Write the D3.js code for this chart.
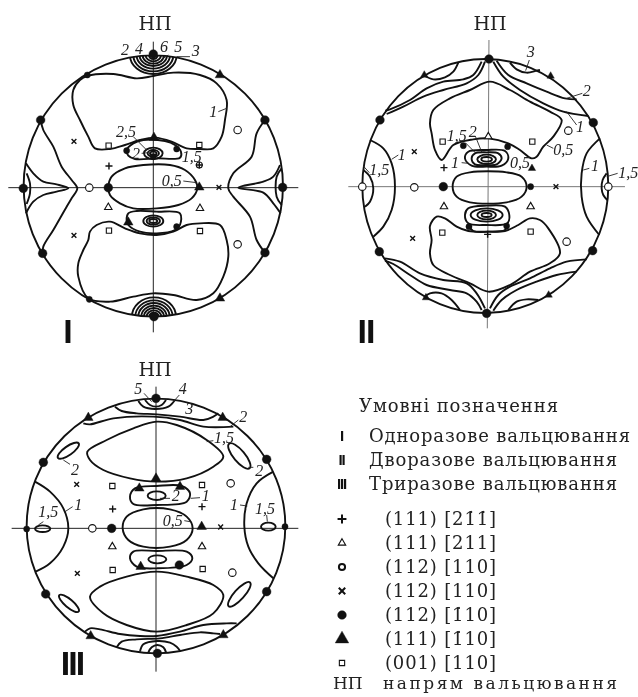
<!DOCTYPE html>
<html>
<head>
<meta charset="utf-8">
<style>
  html, body { margin: 0; padding: 0; background: #fff; }
  svg { display: block; filter: blur(0.4px); }
  .contour { fill: none; stroke: #111; stroke-width: 1.9; stroke-linejoin: round; }
  .leader { stroke: #222; stroke-width: 0.9; }
  .num { font-family: "Liberation Serif", serif; font-style: italic; font-size: 16px; fill: #222; text-anchor: middle; dominant-baseline: central; }
  .title { font-family: "DejaVu Serif", serif; font-size: 19px; fill: #222; text-anchor: middle; }
  .legend { font-family: "DejaVu Serif", serif; font-size: 18px; fill: #222; }
  .roman { font-family: "Liberation Sans", sans-serif; font-weight: bold; font-size: 34px; fill: #111; text-anchor: middle; }
</style>
</head>
<body>
<svg id="chart" width="638" height="697"></svg>
<script src="https://d3js.org/d3.v7.min.js"></script>
<script>
// all pole figure values are offsets from the figure centre, 3 units = 1 px, y goes up

// ---- figure I (single rolling)
const closedI = [
  [[-198,330],[-120,336],[-50,323],[0,330],[60,340],[140,333],[190,308],[220,258],[215,198],[205,148],[180,113],[140,111],[100,113],[55,133],[5,145],[-40,138],[-85,123],[-130,111],[-175,113],[-195,148],[-220,198],[-240,243],[-240,288],[-220,318]],
  [[-80,108],[-75,91],[-55,81],[10,83],[80,85],[83,103],[65,123],[35,135],[-30,138],[-60,128]],
  [[-135,-5],[-125,28],[-85,53],[-30,63],[50,63],[95,48],[125,18],[132,-7],[115,-37],[75,-57],[10,-67],[-60,-67],[-100,-52],[-130,-27]],
  [[-75,-82],[-50,-75],[10,-77],[80,-82],[80,-117],[65,-132],[10,-142],[-40,-137],[-75,-117],[-80,-102]],
  [[-130,-107],[-85,-127],[-40,-142],[10,-147],[60,-137],[100,-117],[140,-112],[200,-117],[220,-162],[225,-212],[210,-272],[180,-322],[130,-342],[60,-327],[0,-322],[-60,-332],[-130,-347],[-195,-337],[-225,-272],[-225,-232],[-210,-192],[-195,-162],[-190,-137],[-170,-117]]
];
const openI = [
  [[-338,198],[-330,168],[-300,118],[-275,58],[-245,18],[-228,-7],[-245,-37],[-260,-62],[-300,-132],[-330,-182],[-332,-202]],
  [[-382,68],[-360,38],[-330,13],[-290,5],[-255,-7],[-290,-17],[-330,-27],[-360,-47],[-382,-82]],
  [[-380,38],[-370,8],[-370,-22],[-380,-54]],
  [[335,198],[310,158],[295,88],[240,38],[225,-7],[240,-32],[290,-92],[310,-162],[335,-200]],
  [[380,63],[360,28],[330,13],[255,-5],[330,-20],[360,-52],[382,-82]],
  [[385,53],[370,28],[370,-32],[385,-57]]
];
// [dx, dy, rx, ry, rotation]
const ovalsI = [
  [0,98,28,17,0],[0,98,17,10,0],[0,98,10,5,0],
  [0,-105,30,17,0],[0,-105,20,11,0],[0,-105,12,6,0],
  // pole lobes, clipped by the circle
  [0,392,70,56,0],[0,392,60,48,0],[0,392,50,40,0],[0,392,41,32,0],[0,392,32,25,0],[0,392,23,18,0],[0,392,13,11,0],
  [2,-392,66,58,0],[2,-392,56,49,0],[2,-392,47,41,0],[2,-392,38,33,0],[2,-392,30,26,0],[2,-392,22,19,0],[2,-392,14,12,0]
];
const pointsI = [
  ["dot",-338,198],["dot",335,198],["dot",-332,-202],["dot",335,-200],["dot",-390,-7],["dot",388,-4],["dot",-135,-5],
  ["dot",0,396],["dot",2,-392],["small",-198,333],["small",-192,-340],["small",-80,106],["small",70,111],["small",70,-122],["small",0,88],
  ["tri",200,333],["tri",200,-337],["tri",138,-4],["tri",2,145],["tri",-75,-109],
  ["square",-134,121],["square",138,123],["square",-133,-134],["square",140,-135],
  ["x",-238,134],["x",197,-4],["x",-238,-148],
  ["ring",253,168],["ring",253,-175],["ring",-192,-5],
  ["plus",-133,60],["smallring",138,63],["plus",138,63],
  ["openTri",-135,-64],["openTri",140,-67]
];
const labelsI = [
  ["2",-85,410],["4",-43,413],["6",32,418],["5",75,420],["3",127,408],["1",180,223],
  ["2,5",-82,163],["2",-52,98],["1,5",115,88],["0,5",55,18]
];
const leadersI = [
  [110,388,70,388],[195,223,220,233],[90,15,130,10],[-60,148,-20,108],[-35,98,-15,100],[45,393,25,380]
];
const axesI = [[-435,-5,435,-5],[0,433,0,-439]];

// ---- figure II (double rolling)
const closedII = [
  [[14,313],[74,288],[134,253],[194,223],[229,198],[204,148],[174,118],[154,88],[139,83],[104,108],[69,128],[10,143],[-36,140],[-96,123],[-131,78],[-151,108],[-161,158],[-166,188],[-156,228],[-106,263],[-46,288]],
  [[-61,83],[-51,103],[4,108],[59,105],[69,83],[49,61],[4,58],[-41,61]],
  [[-41,83],[-31,98],[4,101],[39,98],[49,83],[34,65],[4,63],[-31,65]],
  [[-98,-2],[-86,28],[-46,41],[64,41],[109,28],[124,-2],[109,-32],[64,-49],[-46,-49],[-86,-32]],
  [[-61,-87],[-51,-67],[4,-59],[59,-62],[72,-87],[66,-112],[4,-117],[-51,-112]],
  [[-146,-92],[-121,-97],[-86,-122],[-51,-135],[9,-137],[59,-135],[99,-117],[134,-97],[164,-102],[189,-127],[224,-202],[194,-232],[134,-257],[74,-297],[9,-317],[-46,-292],[-106,-267],[-156,-237],[-166,-202],[-161,-162],[-166,-120]]
];
const openII = [
  [[-1,373],[-21,333],[-56,308],[-126,288],[-186,268],[-246,238],[-296,216]],
  [[-11,373],[-36,333],[-66,320],[-126,313],[-176,293],[-226,258],[-286,230],[-300,226]],
  [[-186,333],[-156,320],[-121,326],[-96,343],[-81,370]],
  [[24,373],[54,328],[104,288],[174,248],[234,223],[309,210]],
  [[34,376],[69,333],[124,308],[184,283],[239,263],[274,260]],
  [[74,370],[94,350],[124,340],[154,346],[164,348]],
  [[-301,-217],[-256,-227],[-196,-262],[-126,-282],[-56,-292],[-26,-322],[-1,-367]],
  [[-301,-224],[-276,-234],[-226,-267],[-176,-297],[-106,-312],[-56,-322],[-26,-347],[-11,-372]],
  [[-181,-332],[-166,-322],[-131,-322],[-101,-342],[-76,-372]],
  [[14,-367],[39,-327],[74,-302],[134,-277],[194,-247],[244,-227],[304,-220]],
  [[24,-374],[49,-342],[94,-312],[154,-287],[214,-267],[274,-257]],
  [[69,-372],[94,-347],[124,-340],[159,-342]],
  [[-346,138],[-306,113],[-281,68],[-271,-2],[-281,-72],[-306,-122],[-336,-152]],
  [[-366,48],[-346,28],[-336,-7],[-346,-47],[-361,-62]],
  [[344,143],[304,98],[289,38],[289,-32],[304,-92],[342,-147]],
  [[364,38],[352,18],[349,-7],[354,-27],[366,-42]],
  [[-51,-117],[-36,-135],[9,-137],[59,-132],[66,-115]]
];
const ovalsII = [
  [4,80,28,14,0],[4,80,16,7,0],
  [4,-87,48,20,0],[4,-87,28,13,0],[4,-87,15,6,0]
];
const pointsII = [
  ["dot",11,381],["dot",4,-382],["dot",-316,198],["dot",324,190],["dot",-318,-197],["dot",322,-194],["dot",-126,-2],
  ["small",136,-2],["small",67,118],["small",-66,121],["small",-49,-122],["small",64,-120],
  ["ring",-369,-2],["ring",369,-2],["ring",-213,-4],["ring",249,166],["ring",244,-167],
  ["square",-128,133],["square",141,133],["square",-129,-140],["square",136,-137],
  ["x",-213,103],["x",-218,-157],["x",212,-2],
  ["smallTri",-183,333],["smallTri",196,330],["smallTri",-178,-335],["smallTri",190,-327],["smallTri",140,53],
  ["openTri",9,148],["openTri",-124,-62],["openTri",136,-62],
  ["plus",-124,55],["plus",7,-145]
];
const labelsII = [
  ["3",136,403],["2",304,288],["1",284,178],["0,5",234,110],["1,5",-86,153],["2",-38,163],["1",-91,70],["0,5",104,70],
  ["1",-251,96],["1,5",-318,51],["1",329,61],["1,5",429,40]
];
const leadersII = [
  [132,378,121,346],[291,278,244,263],[274,183,244,223],[204,113,184,123],[-71,70,-51,68],[-261,93,-281,80],
  [312,53,294,48],[397,38,364,28],[-60,130,-30,100],[-30,150,-10,100],[-348,40,-366,60]
];
const axesII = [[-411,-2,419,-2],[11,438,6,-427]];

// ---- figure III (triple rolling)
const closedIII = [
  [[-206,223],[-148,258],[-68,293],[2,313],[62,303],[152,258],[202,208],[172,178],[92,143],[2,133],[-78,143],[-158,168],[-198,198]],
  [[-198,-212],[-168,-182],[-88,-152],[2,-137],[92,-152],[172,-177],[202,-207],[172,-262],[92,-297],[2,-317],[-88,-297],[-158,-262]],
  [[-78,88],[-63,113],[2,120],[77,120],[102,98],[92,73],[2,63],[-68,66]],
  [[-100,-7],[-88,28],[-38,50],[42,50],[92,28],[110,-7],[92,-42],[42,-62],[-38,-62],[-83,-42]],
  [[-78,-97],[-68,-77],[2,-75],[92,-77],[109,-97],[92,-117],[2,-127],[-58,-122]]
];
const openIII = [
  [[-363,133],[-318,103],[-278,53],[-263,-7],[-278,-62],[-318,-112],[-361,-137]],
  [[352,163],[302,128],[272,68],[265,-2],[277,-62],[307,-112],[352,-157]],
  [[-218,308],[-198,305],[-128,323],[-8,328],[72,318],[142,298],[232,298]],
  [[-123,358],[-103,345],[-58,338],[2,335],[72,328],[142,318],[172,328],[187,338]],
  [[-53,375],[-38,358],[-3,351],[37,358],[57,378]],
  [[-33,378],[-18,363],[-1,358],[17,363],[30,378]],
  [[-213,-317],[-198,-307],[-168,-310],[-108,-324],[-48,-330],[2,-330],[72,-317],[142,-297],[212,-292],[242,-292]],
  [[-118,-364],[-103,-347],[-58,-340],[12,-337],[72,-327],[132,-319],[172,-322],[192,-324]],
  [[-48,-377],[-38,-355],[4,-345],[42,-350],[62,-362],[72,-374]],
  [[-23,-379],[-13,-364],[4,-357],[22,-364],[30,-379]]
];
const ovalsIII = [
  [2,91,27,13,0],[4,-100,27,12,0],
  [-263,226,38,13,-35],[250,210,48,17,50],[-261,-232,38,12,40],[250,-205,48,15,-48],
  [-340,-8,23,10,0],[337,-2,22,12,0]
];
const pointsIII = [
  ["dot",0,383],["dot",4,-382],["dot",-338,191],["dot",332,200],["dot",-331,-204],["dot",332,-197],["dot",-133,-7],
  ["small",-388,-9],["small",387,-2],["dot",70,-117],
  ["tri",-203,325],["tri",200,325],["tri",-196,-330],["tri",202,-327],["tri",137,-2],["tri",0,143],["tri",-50,113],["tri",72,118],["tri",-46,-122],
  ["square",-131,120],["square",138,123],["square",-130,-132],["square",140,-129],
  ["ring",224,128],["ring",229,-140],["ring",-191,-7],
  ["x",-238,125],["x",-236,-142],["x",194,-3],
  ["plus",-130,51],["plus",138,58],
  ["openTri",-131,-62],["openTri",138,-62]
];
const labelsIII = [
  ["5",-53,413],["4",80,413],["3",100,353],["2",262,330],["1,5",204,266],["2",-243,170],["2",310,168],["2",59,91],["1",149,91],
  ["0,5",50,18],["1",-233,66],["1,5",-323,43],["1",234,66],["1,5",327,53]
];
const leadersIII = [
  [-36,398,-13,373],[70,393,52,373],[247,318,222,298],[172,256,152,253],[-258,185,-278,198],[292,176,277,176],[42,83,12,83],
  [132,85,104,83],[85,16,102,13],[-250,58,-273,43],[-338,13,-353,3],[252,63,274,60],[332,33,334,13]
];
const axesIII = [[-433,-7,427,-7],[0,418,0,-437]];

// ---- legend
const legendTitle = "Умовні позначення";
const legendRolling = ["Одноразове вальцювання", "Дворазове вальцювання", "Триразове вальцювання"];
const legendRollingMarks = ["I", "II", "III"];
const legendIndexes = ["(111) [21\u03071\u0307]", "(111) [211]", "(112) [110]", "(112) [110]", "(112) [1\u030710]", "(111) [1\u030710]", "(001) [110]"];
const legendKinds = ["legendPlus", "openTri", "legendRing", "legendX", "dot", "legendTri", "square"];
const legendFootKey = "НП";
const legendFoot = "напрям вальцювання";

const svg = d3.select("#chart");
const ink = "#111";

// marker shapes, px
const symbolOf = {
  dot: [d3.symbolCircle, 60, true], small: [d3.symbolCircle, 30, true], tri: [d3.symbolTriangle, 40, true],
  smallTri: [d3.symbolTriangle, 24, true], legendTri: [d3.symbolTriangle, 80, true],
  openTri: [d3.symbolTriangle, 24, false], square: [d3.symbolSquare, 28, false], ring: [d3.symbolCircle, 44, false],
  smallring: [d3.symbolCircle, 28, false], plus: [d3.symbolCross, 24, true], legendPlus: [d3.symbolCross, 38, true],
  x: [d3.symbolCross, 22, true], legendX: [d3.symbolCross, 40, true], legendRing: [d3.symbolCircle, 30, false]
};
function drawMarker(g, kind, px, py) {
  const s = symbolOf[kind];
  // plus and x come from a thin hand made cross so the arms stay narrow
  if (kind.toLowerCase().indexOf("plus") >= 0 || kind.toLowerCase().endsWith("x")) {
    const a = Math.sqrt(s[1]) * 0.72;
    const turn = kind.toLowerCase().endsWith("x") ? 45 : 0;
    g.append("path")
      .attr("d", "M" + (-a) + ",0L" + a + ",0M0," + (-a) + "L0," + a)
      .attr("transform", "translate(" + px + "," + py + ") rotate(" + turn + ")")
      .attr("stroke", ink).attr("stroke-width", kind.indexOf("legend") === 0 ? 2 : 1.4).attr("fill", "none");
    return;
  }
  g.append("path")
    .attr("d", d3.symbol().type(s[0]).size(s[1])())
    .attr("transform", "translate(" + px + "," + py + ")")
    .attr("fill", s[2] ? ink : "#fff")
    .attr("stroke", ink)
    .attr("stroke-width", s[2] ? 0.4 : (kind === "legendRing" ? 2 : 1.1));
}

function drawFigure(cfg) {
  const x = d3.scaleLinear().domain([-390, 390]).range([cfg.cx - 130, cfg.cx + 130]);
  const y = d3.scaleLinear().domain([390, -390]).range([cfg.cy - 130, cfg.cy + 130]);
  const g = svg.append("g");

  const clipId = "clip" + cfg.name;
  svg.append("clipPath").attr("id", clipId).append("ellipse")
    .attr("cx", x(0)).attr("cy", y(0))
    .attr("rx", x(cfg.rx) - x(0)).attr("ry", y(0) - y(cfg.ry));

  g.selectAll(".axisline").data(cfg.axes).enter().append("line")
    .attr("x1", d => x(d[0])).attr("y1", d => y(d[1]))
    .attr("x2", d => x(d[2])).attr("y2", d => y(d[3]))
    .attr("stroke", cfg.axisColor).attr("stroke-width", 1);

  g.append("ellipse")
    .attr("cx", x(0)).attr("cy", y(0))
    .attr("rx", x(cfg.rx) - x(0)).attr("ry", y(0) - y(cfg.ry))
    .attr("fill", "none").attr("stroke", ink).attr("stroke-width", 1.9);

  const closedLine = d3.line().x(d => x(d[0])).y(d => y(d[1])).curve(d3.curveCatmullRomClosed.alpha(0.5));
  const openLine = d3.line().x(d => x(d[0])).y(d => y(d[1])).curve(d3.curveCatmullRom.alpha(0.5));

  g.selectAll(".closed").data(cfg.closed).enter().append("path")
    .attr("class", "contour").attr("d", closedLine);
  g.selectAll(".open").data(cfg.open).enter().append("path")
    .attr("class", "contour").attr("d", openLine);

  const ov = g.append("g").attr("clip-path", "url(#" + clipId + ")");
  ov.selectAll("ellipse").data(cfg.ovals).enter().append("ellipse")
    .attr("class", "contour")
    .attr("rx", d => x(d[2]) - x(0))
    .attr("ry", d => x(d[3]) - x(0))
    .attr("transform", d => "translate(" + x(d[0]) + "," + y(d[1]) + ") rotate(" + d[4] + ")");

  g.selectAll(".leader").data(cfg.leaders).enter().append("line")
    .attr("class", "leader")
    .attr("x1", d => x(d[0])).attr("y1", d => y(d[1]))
    .attr("x2", d => x(d[2])).attr("y2", d => y(d[3]));

  cfg.points.forEach(p => drawMarker(g, p[0], x(p[1]), y(p[2])));

  g.selectAll(".num").data(cfg.labels).enter().append("text")
    .attr("class", "num")
    .attr("x", d => x(d[1])).attr("y", d => y(d[2]))
    .text(d => d[0]);

  g.append("text").attr("class", "title")
    .attr("x", cfg.titleX).attr("y", cfg.titleY).text("НП");
  g.append("text").attr("class", "roman")
    .attr("x", cfg.romanX).attr("y", cfg.romanY)
    .attr("letter-spacing", cfg.romanGap)
    .text(cfg.roman);
}

drawFigure({ name: "I", cx: 153.3, cy: 186, rx: 389, ry: 392, axisColor: "#222",
  closed: closedI, open: openI, ovals: ovalsI, points: pointsI, labels: labelsI, leaders: leadersI, axes: axesI,
  titleX: 155, titleY: 30, roman: "I", romanX: 68, romanY: 343, romanGap: 0 });
drawFigure({ name: "II", cx: 485.3, cy: 186, rx: 369, ry: 381, axisColor: "#777",
  closed: closedII, open: openII, ovals: ovalsII, points: pointsII, labels: labelsII, leaders: leadersII, axes: axesII,
  titleX: 490, titleY: 30, roman: "II", romanX: 366, romanY: 343, romanGap: -1 });
drawFigure({ name: "III", cx: 156, cy: 526, rx: 388, ry: 382, axisColor: "#222",
  closed: closedIII, open: openIII, ovals: ovalsIII, points: pointsIII, labels: labelsIII, leaders: leadersIII, axes: axesIII,
  titleX: 155, titleY: 376, roman: "III", romanX: 72, romanY: 675, romanGap: -2 });

// legend
const lg = svg.append("g");
const rollY = d3.scalePoint().domain(legendRolling).range([442, 490]);
const indexY = d3.scaleLinear().domain([0, legendIndexes.length - 1]).range([525, 669]);

lg.append("text").attr("class", "legend").attr("x", 359).attr("y", 412)
  .attr("textLength", 199).text(legendTitle);
lg.selectAll(".roll").data(legendRolling).enter().append("text")
  .attr("class", "legend").attr("x", 369).attr("y", d => rollY(d))
  .attr("textLength", (d, i) => [261, 248, 248][i]).text(d => d);
lg.selectAll(".rollmark").data(legendRollingMarks).enter().append("text")
  .attr("x", 341.5).attr("y", (d, i) => rollY(legendRolling[i]) - 1)
  .attr("text-anchor", "middle").attr("font-family", "Liberation Sans").attr("font-weight", "bold")
  .attr("font-size", 15).attr("letter-spacing", -1.2).attr("fill", ink).text(d => d);
lg.selectAll(".idx").data(legendIndexes).enter().append("text")
  .attr("class", "legend").attr("x", 385).attr("y", (d, i) => indexY(i))
  .attr("textLength", 111).text(d => d);
legendKinds.forEach((k, i) => drawMarker(lg, k, 342, indexY(i) - 6));
lg.append("text").attr("class", "legend").attr("x", 333).attr("y", 689)
  .style("font-size", "17px").text(legendFootKey);
lg.append("text").attr("class", "legend").attr("x", 383).attr("y", 689)
  .style("font-size", "17px").attr("textLength", 234).text(legendFoot);
</script>
</body>
</html>
